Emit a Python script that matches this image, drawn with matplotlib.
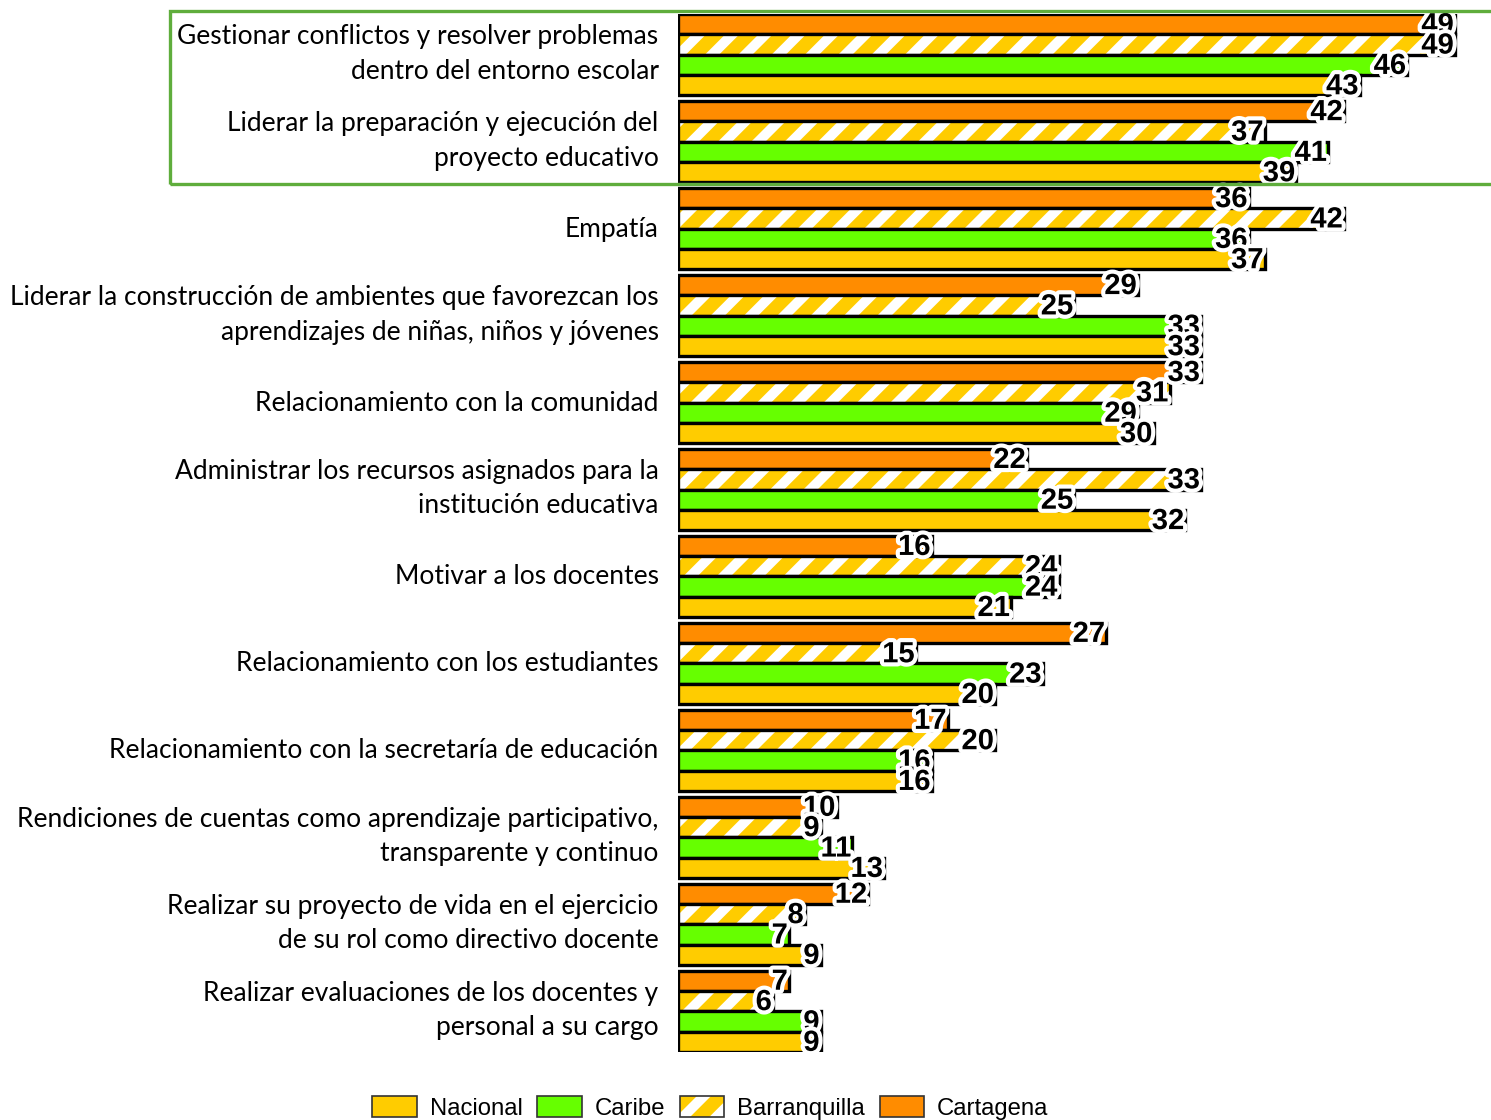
import matplotlib.pyplot as plt
import matplotlib.patheffects as pe
from matplotlib.patches import Patch, Rectangle
from matplotlib.legend_handler import HandlerTuple
import numpy as np

categories = [
    'Gestionar conflictos y resolver problemas\ndentro del entorno escolar',
    'Liderar la preparación y ejecución del\nproyecto educativo',
    'Empatía',
    'Liderar la construcción de ambientes que favorezcan los\naprendizajes de niñas, niños y jóvenes',
    'Relacionamiento con la comunidad',
    'Administrar los recursos asignados para la\ninstitución educativa',
    'Motivar a los docentes',
    'Relacionamiento con los estudiantes',
    'Relacionamiento con la secretaría de educación',
    'Rendiciones de cuentas como aprendizaje participativo,\ntransparente y continuo',
    'Realizar su proyecto de vida en el ejercicio\nde su rol como directivo docente',
    'Realizar evaluaciones de los docentes y\npersonal a su cargo',
]
cartagena = [49, 42, 36, 29, 33, 22, 16, 27, 17, 10, 12, 7]
barranquilla = [49, 37, 42, 25, 31, 33, 24, 15, 20, 9, 8, 6]
caribe = [46, 41, 36, 33, 29, 25, 24, 23, 16, 11, 7, 9]
nacional = [43, 39, 37, 33, 30, 32, 21, 20, 16, 13, 9, 9]

ORANGE = '#ff8c00'
YELLOW = '#ffcc00'
GREEN = '#66ff00'

plt.rcParams['hatch.linewidth'] = 3.6

fig = plt.figure(figsize=(7.455, 5.6), dpi=200)
ax = fig.add_axes([678 / 1491, 1 - 1052 / 1120, 1 - 678 / 1491, (1052 - 14) / 1120])

period = 4.27
base = np.arange(len(categories)) * period
series = [cartagena, barranquilla, caribe, nacional]
colors = [ORANGE, YELLOW, GREEN, YELLOW]
lw = 1.2

for j, (vals, col) in enumerate(zip(series, colors)):
    y = base + j
    if j == 1:
        # hatched bar: white stripes on yellow, then black outline on top
        ax.barh(y, vals, height=1, color=col, edgecolor='white', hatch='//', linewidth=0)
        ax.barh(y, vals, height=1, fill=False, edgecolor='black', linewidth=lw)
    else:
        ax.barh(y, vals, height=1, color=col, edgecolor='black', linewidth=lw)
    for yy, v in zip(y, vals):
        ax.text(v - 0.08, yy + 0.05, str(v), ha='right', va='center', fontsize=10.5,
                fontweight='bold', family='Liberation Sans', color='black', zorder=5,
                path_effects=[pe.withStroke(linewidth=3, foreground='white')])

ax.set_xlim(0, 51.27)
ax.set_ylim(11 * period + 3.5, -0.5)
# two-line labels sit a little higher than single-line ones
label_pos = [b + (1.12 if '\n' in c else 1.4) for b, c in zip(base, categories)]
ax.set_yticks(label_pos)
ax.set_yticklabels(categories, fontsize=9.5, family='Lato', linespacing=1.46)
ax.tick_params(axis='y', length=0, pad=7)
ax.set_xticks([])
for s in ax.spines.values():
    s.set_visible(False)

# green frame around the first two categories
fig.add_artist(Rectangle((170 / 1491, 1 - 184 / 1120), 1.0, (184 - 11) / 1120,
                         transform=fig.transFigure, fill=False,
                         edgecolor='#5fad3c', linewidth=1.2, clip_on=False))

handles = [
    Patch(facecolor=YELLOW, edgecolor='#333333', linewidth=0.6),
    Patch(facecolor=GREEN, edgecolor='#333333', linewidth=0.6),
    (Patch(facecolor=YELLOW, edgecolor='white', hatch='//', linewidth=0),
     Patch(fill=False, edgecolor='#333333', linewidth=0.6)),
    Patch(facecolor=ORANGE, edgecolor='#333333', linewidth=0.6),
]
labels = ['Nacional', 'Caribe', 'Barranquilla', 'Cartagena']
fig.legend(handles, labels, loc='center', bbox_to_anchor=(0.4765, 1 - 1108 / 1120),
           ncol=4, frameon=False, prop={'family': 'Liberation Sans', 'size': 8.6},
           handlelength=1.85, handleheight=0.95, handletextpad=0.55, columnspacing=0.62,
           borderpad=0.2, handler_map={tuple: HandlerTuple(ndivide=1)})

fig.savefig('out.png', dpi=200)
